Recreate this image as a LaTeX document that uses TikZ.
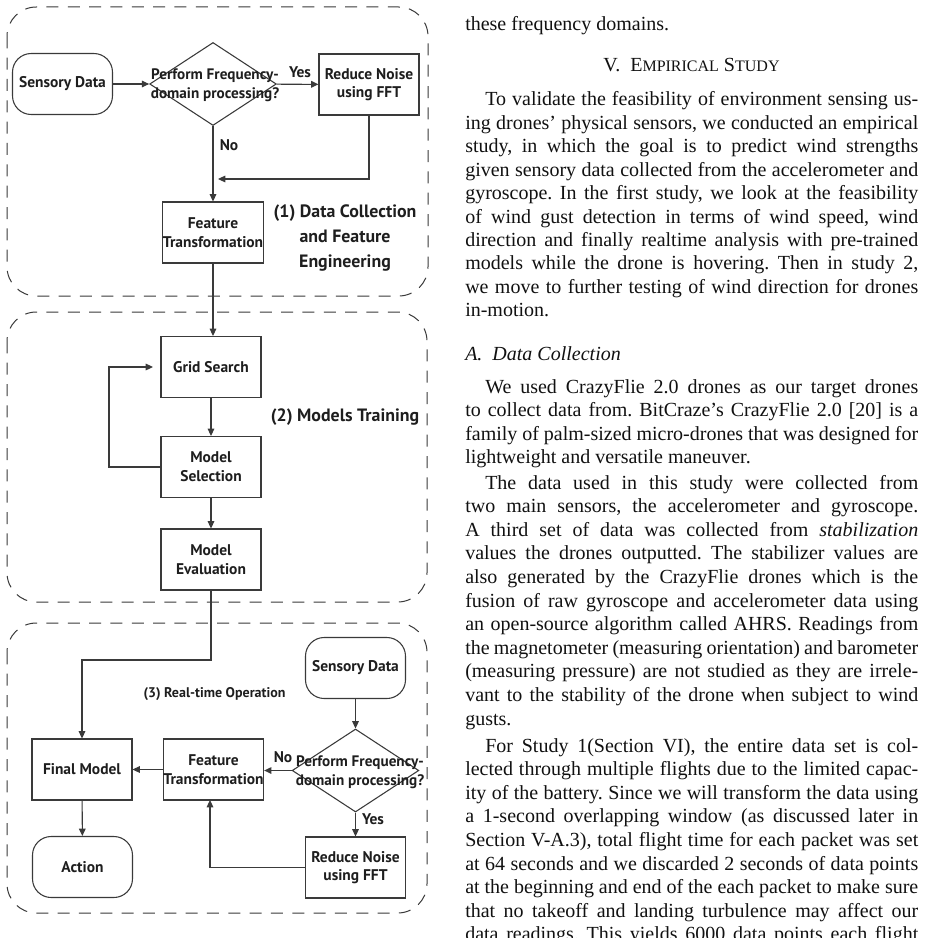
\documentclass[tikz,border=0pt]{standalone}
\usepackage{fontspec}
\setmainfont{Liberation Serif}
\newfontfamily\dfont{PT Sans}
\usetikzlibrary{arrows.meta,shapes.geometric,calc}
\definecolor{linec}{HTML}{3A3A3A}
\definecolor{dtext}{HTML}{1E1E1E}
\definecolor{txt}{HTML}{111111}
\newcommand{\bodyf}{\fontsize{15}{17.5}\selectfont\frenchspacing}
\newcommand{\TxtJ}[4]{\node[anchor=base west,inner sep=0pt,text=txt,font=\bodyf] (#1) at (#2,#3) {\makebox[\dimexpr(918pt-#2pt)*3/4\relax][s]{#4}};}
\newcommand{\TxtL}[4]{\node[anchor=base west,inner sep=0pt,text=txt,font=\bodyf] (#1) at (#2,#3) {#4};}
\tikzset{
  fbox/.style={draw=linec, line width=0.8pt, minimum width=75pt, minimum height=45.75pt, inner sep=0pt, align=center, text=dtext, font=\dfont\bfseries\fontsize{11.6}{14}\selectfont},
  rbox/.style={fbox, rounded corners=14pt},
  dia/.style={draw=linec, line width=0.8pt, diamond, minimum width=95pt, minimum height=62.25pt, inner sep=0pt},
  dtxt/.style={align=center, inner sep=0pt, text=dtext, font=\dfont\bfseries\fontsize{11.4}{14.25}\selectfont},
  lbl/.style={inner sep=0pt, text=dtext, font=\dfont\bfseries\fontsize{11.6}{14}\selectfont},
  grplbl/.style={align=center, inner sep=0pt, text=dtext, font=\dfont\bfseries\fontsize{13.4}{18.75}\selectfont},
  arr/.style={draw=linec, line width=0.8pt, -{Triangle[length=5.5pt,width=5pt]}},
  grp/.style={draw=linec, line width=0.75pt, dash pattern=on 9pt off 7pt, rounded corners=22pt},
}
\begin{document}
\begin{tikzpicture}[x=0.75pt,y=-0.75pt]
\fill[white] (0,0) rectangle (926,938);
\useasboundingbox (0,0) rectangle (926,938);

% group frames
\draw[grp] (7,7) rectangle (428,296);
\draw[grp] (7,312) rectangle (427,602);
\draw[grp] (7,623) rectangle (427,913);

% ---- (1) data collection
\node[rbox] (sd1) at (62.5,84) {Sensory Data};
\node[dia] (d1) at (213,84) {};
\node[dtxt] (d1t) at (215,85) {Perform Frequency-\\domain processing?};
\node[fbox] (rn1) at (369,84.5) {Reduce Noise\\using FFT};
\node[fbox] (ft1) at (213,232.5) {Feature\\Transformation};
\node[grplbl] (lab1) at (345,238) {(1) Data Collection\\and Feature\\Engineering};
\coordinate (j1) at (218,179);
\draw[arr] (sd1) -- (d1);
\draw[arr] (d1) -- (rn1);
\node[lbl] (yes1) at (300,72) {Yes};
\draw[arr] (rn1.south) |- (j1);
\draw[arr] (d1.south) -- (ft1.north);
\node[lbl] (no1) at (229,145) {No};

% ---- (2) models training
\node[fbox] (gs) at (211,367) {Grid Search};
\node[fbox] (ms) at (211,467) {Model\\Selection};
\node[fbox] (me) at (211,559.5) {Model\\Evaluation};
\node[grplbl] (lab2) at (345,417) {(2) Models Training};
\draw[arr] (ft1.south) -- (ft1.south |- gs.north);
\draw[arr] (gs) -- (ms);
\draw[arr] (ms) -- (me);
\coordinate (lx) at (109,367);
\coordinate (l2) at (153,367);
\draw[arr] (ms.west) -| (lx) -- (l2);

% ---- (3) real-time operation
\node[rbox] (sd2) at (355.5,668) {Sensory Data};
\node[dia] (d2) at (355.5,770.5) {};
\node[dtxt] (d2t) at (360,772) {Perform Frequency-\\domain processing?};
\node[fbox] (ft2) at (213.5,769.5) {Feature\\Transformation};
\node[fbox] (fm) at (82,769.5) {Final Model};
\node[rbox] (act) at (82.5,867) {Action};
\node[fbox] (rn2) at (355.5,867.5) {Reduce Noise\\using FFT};
\node[lbl,font=\dfont\bfseries\fontsize{10.5}{13}\selectfont] (lab3) at (214.5,694) {(3) Real-time Operation};
\coordinate (k1) at (82,660);
\draw[arr] (me.south) |- (k1) -- (fm.north);
\draw[arr] (sd2) -- (d2);
\draw[arr] (d2.west) -- (d2.west -| ft2.east);
\node[lbl] (no2) at (283,757) {No};
\draw[arr] (ft2.west) -- (fm.east);
\draw[arr] (fm) -- (act);
\draw[arr] (d2) -- (rn2);
\node[lbl] (yes2) at (373,819) {Yes};
\coordinate (f2b) at (210,800);
\draw[arr] (rn2.west) -| (f2b);

% ---- right column text
\TxtL{t0}{465}{31}{these frequency domains.}
\node[anchor=base,inner sep=0pt,text=txt,font=\bodyf] (hd) at (691.5,72) {V.\enspace E{\fontsize{12}{14}\selectfont MPIRICAL} S{\fontsize{12}{14}\selectfont TUDY}};
\TxtJ{a1}{485}{106}{To validate the feasibility of environment sensing us-}
\TxtJ{a2}{465}{129.4}{ing drones' physical sensors, we conducted an empirical}
\TxtJ{a3}{465}{152.8}{study, in which the goal is to predict wind strengths}
\TxtJ{a4}{465}{176.2}{given sensory data collected from the accelerometer and}
\TxtJ{a5}{465}{199.6}{gyroscope. In the first study, we look at the feasibility}
\TxtJ{a6}{465}{223}{of wind gust detection in terms of wind speed, wind}
\TxtJ{a7}{465}{246.4}{direction and finally realtime analysis with pre-trained}
\TxtJ{a8}{465}{269.8}{models while the drone is hovering. Then in study 2,}
\TxtJ{a9}{465}{293.2}{we move to further testing of wind direction for drones}
\TxtL{a10}{465}{316.6}{in-motion.}
\TxtL{sa}{465}{360}{\textit{A.\enspace Data Collection}}
\TxtJ{b1}{485}{393}{We used CrazyFlie 2.0 drones as our target drones}
\TxtJ{b2}{465}{416.5}{to collect data from. BitCraze's CrazyFlie 2.0 [20] is a}
\TxtJ{b3}{465}{440}{family of palm-sized micro-drones that was designed for}
\TxtL{b4}{465}{463.5}{lightweight and versatile maneuver.}
\TxtJ{c1}{485}{489}{The data used in this study were collected from}
\TxtJ{c2}{465}{512.6}{two main sensors, the accelerometer and gyroscope.}
\TxtJ{c3}{465}{536.2}{A third set of data was collected from \textit{stabilization}}
\TxtJ{c4}{465}{559.8}{values the drones outputted. The stabilizer values are}
\TxtJ{c5}{465}{583.4}{also generated by the CrazyFlie drones which is the}
\TxtJ{c6}{465}{607}{fusion of raw gyroscope and accelerometer data using}
\TxtJ{c7}{465}{630.6}{an open-source algorithm called AHRS. Readings from}
\TxtJ{c8}{465}{654.2}{the magnetometer (measuring orientation) and barometer}
\TxtJ{c9}{465}{677.8}{(measuring pressure) are not studied as they are irrele-}
\TxtJ{c10}{465}{701.4}{vant to the stability of the drone when subject to wind}
\TxtL{c11}{465}{725}{gusts.}
\TxtJ{e1}{485}{752}{For Study 1(Section VI), the entire data set is col-}
\TxtJ{e2}{465}{775.6}{lected through multiple flights due to the limited capac-}
\TxtJ{e3}{465}{799.2}{ity of the battery. Since we will transform the data using}
\TxtJ{e4}{465}{822.8}{a 1-second overlapping window (as discussed later in}
\TxtJ{e5}{465}{846.4}{Section V-A.3), total flight time for each packet was set}
\TxtJ{e6}{465}{870}{at 64 seconds and we discarded 2 seconds of data points}
\TxtJ{e7}{465}{893.6}{at the beginning and end of the each packet to make sure}
\TxtJ{e8}{465}{917.2}{that no takeoff and landing turbulence may affect our}
\TxtJ{e9}{465}{940.8}{data readings. This yields 6000 data points each flight}
\end{tikzpicture}
\end{document}
